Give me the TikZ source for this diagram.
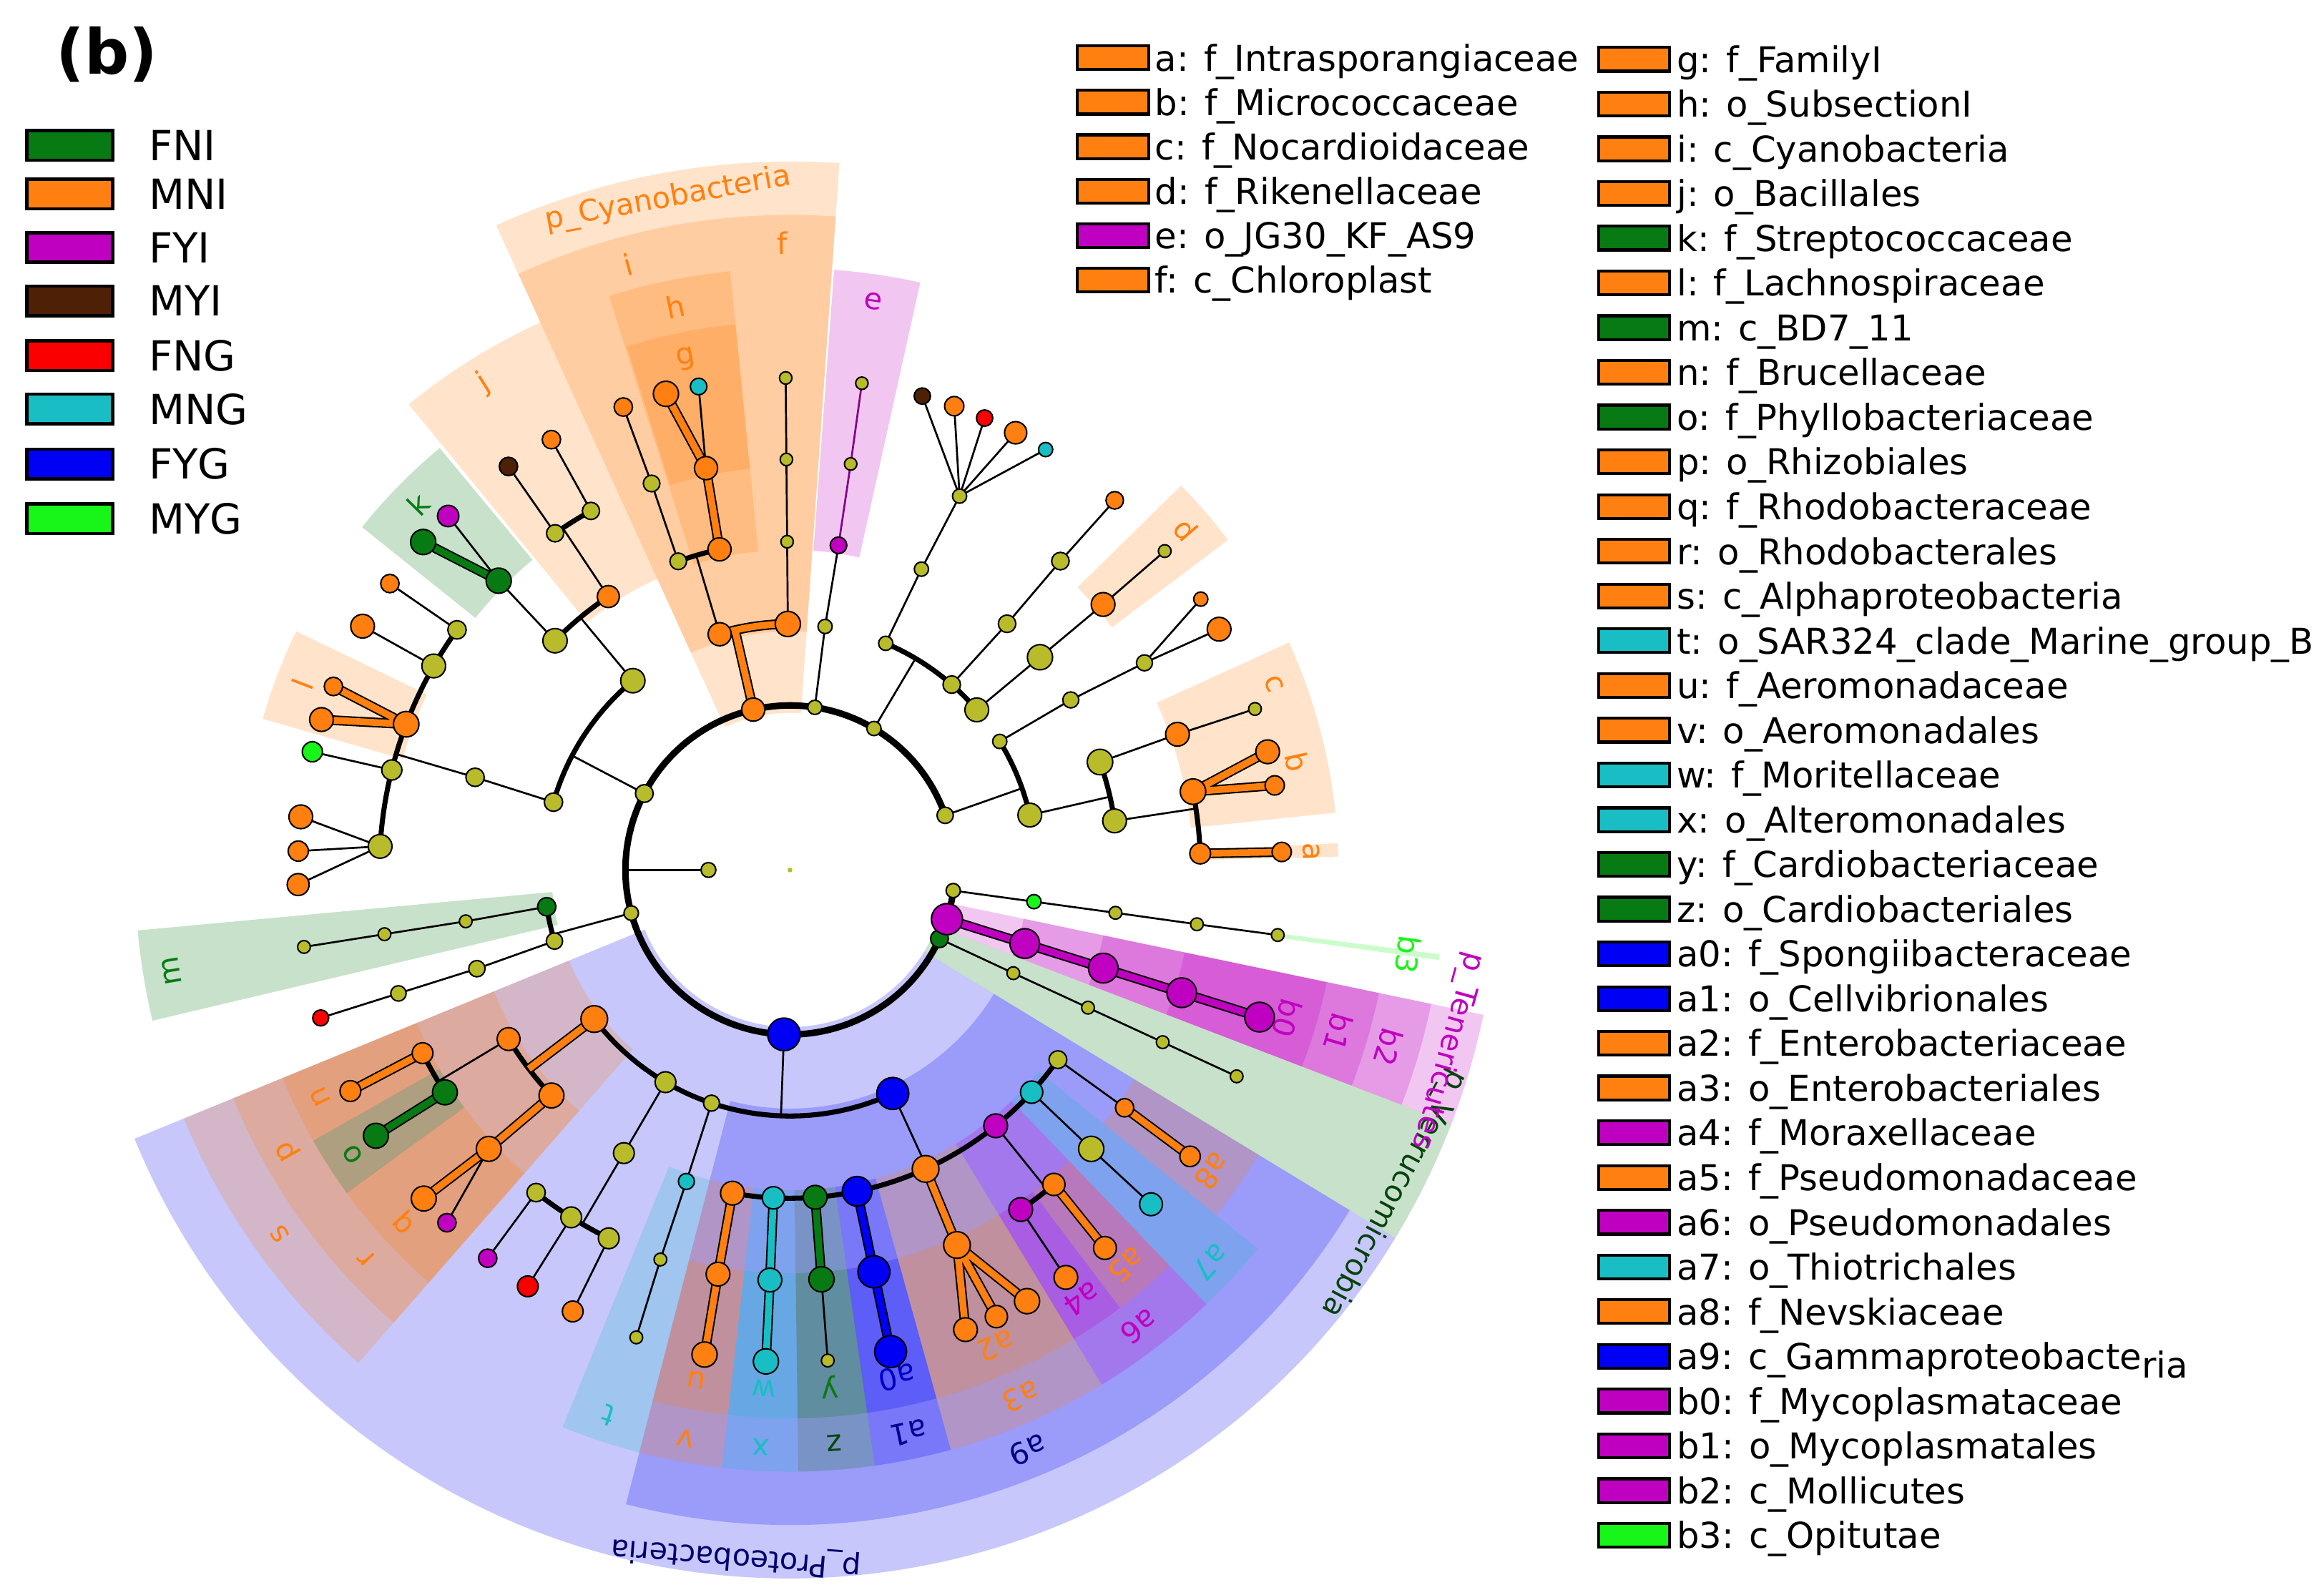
\documentclass[tikz,border=0pt]{standalone}
\usepackage{fontspec}
\setmainfont{DejaVu Sans}
\usepackage{tikz}

\definecolor{ygc}{RGB}{184,188,42}
\definecolor{fni}{RGB}{8,122,20}
\definecolor{mni}{RGB}{255,128,16}
\definecolor{fyi}{RGB}{192,0,192}
\definecolor{myi}{RGB}{78,32,6}
\definecolor{fng}{RGB}{250,0,0}
\definecolor{mng}{RGB}{24,190,196}
\definecolor{fyg}{RGB}{0,0,245}
\definecolor{myg}{RGB}{24,245,24}

\tikzset{
  br/.style={draw=black, line width=0.65pt},
  arcbr/.style={draw=black, line width=1.7pt},
  ringbr/.style={draw=black, line width=2.2pt},
  cbr/.style={draw=#1, line width=2.3pt, preaction={draw=black, line width=3.3pt}},
  nd/.style={circle, draw=black, line width=0.5pt, inner sep=0pt, minimum size=#1},
  clab/.style={font=\fontsize{10}{12}\selectfont, inner sep=0pt},
  legbox/.style={draw=black, line width=1.1pt, minimum width=29pt, minimum height=10pt, inner sep=0pt},
  legtxt/.style={anchor=west, inner sep=0pt, text height=10.2pt, text depth=0pt, font=\fontsize{14}{16}\selectfont},
  keybox/.style={draw=black, line width=1pt, minimum width=24pt, minimum height=8pt, inner sep=0pt},
  keytxt/.style={anchor=west, inner sep=0pt, text height=8.8pt, text depth=0pt, font=\fontsize{12}{14}\selectfont},
}

% annular sector: start angle, end angle, inner radius, outer radius, colour
\newcommand{\cladesector}[5]{%
  \fill[#5, fill opacity=0.22] (#1:#3) arc[start angle=#1, end angle=#2, radius=#3]
    -- (#2:#4) arc[start angle=#2, end angle=#1, radius=#4] -- cycle;}

\begin{document}
\begin{tikzpicture}[x=0.5pt,y=0.5pt,yscale=-1,xscale=1]
\useasboundingbox (0,0) rectangle (1568,1076);
\fill[white] (0,0) rectangle (1568,1076);

% Text Node
\node[font=\fontsize{21}{24}\selectfont\bfseries, inner sep=0pt] (title) at (72,37) {(b)};

%Shape: Legend boxes, left
\node[legbox, fill=fni] (bxFNI) at (47,98) {};
\node[legtxt] (txFNI) at (100,98) {FNI};
\node[legbox, fill=mni] (bxMNI) at (47,131) {};
\node[legtxt] (txMNI) at (100,131) {MNI};
\node[legbox, fill=fyi] (bxFYI) at (47,167) {};
\node[legtxt] (txFYI) at (100,167) {FYI};
\node[legbox, fill=myi] (bxMYI) at (47,203) {};
\node[legtxt] (txMYI) at (100,203) {MYI};
\node[legbox, fill=fng] (bxFNG) at (47,240) {};
\node[legtxt] (txFNG) at (100,240) {FNG};
\node[legbox, fill=mng] (bxMNG) at (47,276) {};
\node[legtxt] (txMNG) at (100,276) {MNG};
\node[legbox, fill=fyg] (bxFYG) at (47,313) {};
\node[legtxt] (txFYG) at (100,313) {FYG};
\node[legbox, fill=myg] (bxMYG) at (47,350) {};
\node[legtxt] (txMYG) at (100,350) {MYG};

%Shape: Key, first column
\node[keybox, fill=mni] (ka) at (751,39) {};
\node[keytxt] (ta) at (779,39) {a: f\_Intrasporangiaceae};
\node[keybox, fill=mni] (kb) at (751,69) {};
\node[keytxt] (tb) at (779,69) {b: f\_Micrococcaceae};
\node[keybox, fill=mni] (kc) at (751,99) {};
\node[keytxt] (tc) at (779,99) {c: f\_Nocardioidaceae};
\node[keybox, fill=mni] (kd) at (751,129) {};
\node[keytxt] (td) at (779,129) {d: f\_Rikenellaceae};
\node[keybox, fill=fyi] (ke) at (751,159) {};
\node[keytxt] (te) at (779,159) {e: o\_JG30\_KF\_AS9};
\node[keybox, fill=mni] (kf) at (751,189) {};
\node[keytxt] (tf) at (779,189) {f: c\_Chloroplast};

%Shape: Key, second column
\node[keybox, fill=mni] (kg) at (1102.5,40) {};
\node[keytxt] (tg) at (1131,40) {g: f\_FamilyI};
\node[keybox, fill=mni] (kh) at (1102.5,70.2) {};
\node[keytxt] (th) at (1131,70.2) {h: o\_SubsectionI};
\node[keybox, fill=mni] (ki) at (1102.5,100.4) {};
\node[keytxt] (ti) at (1131,100.4) {i: c\_Cyanobacteria};
\node[keybox, fill=mni] (kj) at (1102.5,130.5) {};
\node[keytxt] (tj) at (1131,130.5) {j: o\_Bacillales};
\node[keybox, fill=fni] (kk) at (1102.5,160.7) {};
\node[keytxt] (tk) at (1131,160.7) {k: f\_Streptococcaceae};
\node[keybox, fill=mni] (kl) at (1102.5,190.9) {};
\node[keytxt] (tl) at (1131,190.9) {l: f\_Lachnospiraceae};
\node[keybox, fill=fni] (km) at (1102.5,221.1) {};
\node[keytxt] (tm) at (1131,221.1) {m: c\_BD7\_11};
\node[keybox, fill=mni] (kn) at (1102.5,251.3) {};
\node[keytxt] (tn) at (1131,251.3) {n: f\_Brucellaceae};
\node[keybox, fill=fni] (ko) at (1102.5,281.4) {};
\node[keytxt] (to) at (1131,281.4) {o: f\_Phyllobacteriaceae};
\node[keybox, fill=mni] (kp) at (1102.5,311.6) {};
\node[keytxt] (tp) at (1131,311.6) {p: o\_Rhizobiales};
\node[keybox, fill=mni] (kq) at (1102.5,341.8) {};
\node[keytxt] (tq) at (1131,341.8) {q: f\_Rhodobacteraceae};
\node[keybox, fill=mni] (kr) at (1102.5,372) {};
\node[keytxt] (tr) at (1131,372) {r: o\_Rhodobacterales};
\node[keybox, fill=mni] (ks) at (1102.5,402.2) {};
\node[keytxt] (ts) at (1131,402.2) {s: c\_Alphaproteobacteria};
\node[keybox, fill=mng] (kt) at (1102.5,432.3) {};
\node[keytxt] (tt) at (1131,432.3) {t: o\_SAR324\_clade\_Marine\_group\_B};
\node[keybox, fill=mni] (ku) at (1102.5,462.5) {};
\node[keytxt] (tu) at (1131,462.5) {u: f\_Aeromonadaceae};
\node[keybox, fill=mni] (kv) at (1102.5,492.7) {};
\node[keytxt] (tv) at (1131,492.7) {v: o\_Aeromonadales};
\node[keybox, fill=mng] (kw) at (1102.5,522.9) {};
\node[keytxt] (tw) at (1131,522.9) {w: f\_Moritellaceae};
\node[keybox, fill=mng] (kx) at (1102.5,553.1) {};
\node[keytxt] (tx) at (1131,553.1) {x: o\_Alteromonadales};
\node[keybox, fill=fni] (ky) at (1102.5,583.2) {};
\node[keytxt] (ty) at (1131,583.2) {y: f\_Cardiobacteriaceae};
\node[keybox, fill=fni] (kz) at (1102.5,613.4) {};
\node[keytxt] (tz) at (1131,613.4) {z: o\_Cardiobacteriales};
\node[keybox, fill=fyg] (ka0) at (1102.5,643.6) {};
\node[keytxt] (ta0) at (1131,643.6) {a0: f\_Spongiibacteraceae};
\node[keybox, fill=fyg] (ka1) at (1102.5,673.8) {};
\node[keytxt] (ta1) at (1131,673.8) {a1: o\_Cellvibrionales};
\node[keybox, fill=mni] (ka2) at (1102.5,704) {};
\node[keytxt] (ta2) at (1131,704) {a2: f\_Enterobacteriaceae};
\node[keybox, fill=mni] (ka3) at (1102.5,734.1) {};
\node[keytxt] (ta3) at (1131,734.1) {a3: o\_Enterobacteriales};
\node[keybox, fill=fyi] (ka4) at (1102.5,764.3) {};
\node[keytxt] (ta4) at (1131,764.3) {a4: f\_Moraxellaceae};
\node[keybox, fill=mni] (ka5) at (1102.5,794.5) {};
\node[keytxt] (ta5) at (1131,794.5) {a5: f\_Pseudomonadaceae};
\node[keybox, fill=fyi] (ka6) at (1102.5,824.7) {};
\node[keytxt] (ta6) at (1131,824.7) {a6: o\_Pseudomonadales};
\node[keybox, fill=mng] (ka7) at (1102.5,854.9) {};
\node[keytxt] (ta7) at (1131,854.9) {a7: o\_Thiotrichales};
\node[keybox, fill=mni] (ka8) at (1102.5,885) {};
\node[keytxt] (ta8) at (1131,885) {a8: f\_Nevskiaceae};
\node[keybox, fill=fyg] (ka9) at (1102.5,915.2) {};
\node[keytxt] (ta9) at (1131,915.2) {a9: c\_Gammaproteobacte\raisebox{-0.45ex}{ria}};
\node[keybox, fill=fyi] (kb0) at (1102.5,945.4) {};
\node[keytxt] (tb0) at (1131,945.4) {b0: f\_Mycoplasmataceae};
\node[keybox, fill=fyi] (kb1) at (1102.5,975.6) {};
\node[keytxt] (tb1) at (1131,975.6) {b1: o\_Mycoplasmatales};
\node[keybox, fill=fyi] (kb2) at (1102.5,1005.8) {};
\node[keytxt] (tb2) at (1131,1005.8) {b2: c\_Mollicutes};
\node[keybox, fill=myg] (kb3) at (1102.5,1035.9) {};
\node[keytxt] (tb3) at (1131,1035.9) {b3: c\_Opitutae};

% ---------------- cladogram ----------------
\begin{scope}[shift={(533,587)},yscale=-1]

%Shape: Sectors, phylum
\cladesector{86}{114.5}{106}{478}{mni}
\cladesector{202.3}{328.7}{106}{478}{fyg}
\cladesector{328.7}{339}{106}{478}{fni}
\cladesector{339}{348.2}{106}{478}{fyi}
%Shape: Sectors, class
\cladesector{86}{95.5}{161}{442}{mni}
\cladesector{95.5}{114.5}{161}{442}{mni}
\cladesector{185.3}{193.3}{161}{442}{fni}
\cladesector{202.3}{228.8}{161}{442}{mni}
\cladesector{255.5}{328.7}{161}{442}{fyg}
\cladesector{339}{348.2}{161}{442}{fyi}
\cladesector{352.1}{352.6}{327}{442}{myg}
%Shape: Sectors, order
\cladesector{77.5}{85.8}{216}{406}{fyi}
\cladesector{95.7}{107.5}{216}{406}{mni}
\cladesector{114.5}{129.3}{216}{406}{mni}
\cladesector{202.3}{216.1}{216}{406}{mni}
\cladesector{216.1}{228.8}{216}{406}{mni}
\cladesector{247.8}{255.5}{216}{406}{mng}
\cladesector{255.5}{263.5}{216}{406}{mni}
\cladesector{263.5}{270.8}{216}{406}{mng}
\cladesector{270.8}{278.1}{216}{406}{fni}
\cladesector{278.1}{285.5}{216}{406}{fyg}
\cladesector{285.5}{301.2}{216}{406}{mni}
\cladesector{301.2}{313.8}{216}{406}{fyi}
\cladesector{313.8}{321}{216}{406}{mng}
\cladesector{339}{348.2}{216}{406}{fyi}
%Shape: Sectors, family
\cladesector{1.4}{2.8}{272}{370}{mni}
\cladesector{6}{17.7}{272}{370}{mni}
\cladesector{17.7}{24.5}{272}{370}{mni}
\cladesector{37}{44.5}{272}{370}{mni}
\cladesector{95.7}{107.3}{272}{370}{mni}
\cladesector{129.7}{141.3}{272}{370}{fni}
\cladesector{154.2}{164}{272}{370}{mni}
\cladesector{202.3}{209.6}{272}{370}{mni}
\cladesector{209.6}{216.1}{272}{370}{fni}
\cladesector{216.1}{228.8}{272}{370}{mni}
\cladesector{255.5}{263.5}{272}{370}{mni}
\cladesector{263.5}{270.8}{272}{370}{mng}
\cladesector{270.8}{278.1}{272}{370}{fni}
\cladesector{278.1}{285.5}{272}{370}{fyg}
\cladesector{285.5}{301.2}{272}{370}{mni}
\cladesector{301.2}{307}{272}{370}{fyi}
\cladesector{307}{313.8}{272}{370}{mni}
\cladesector{321}{328.7}{272}{370}{mni}
\cladesector{339}{348.2}{272}{370}{fyi}

% Text Node: sector labels
\node[clab, text=mni, rotate=2-90] (lba) at (2:352) {a};
\node[clab, text=mni, rotate=12-90] (lbb) at (12:350) {b};
\node[clab, text=mni, rotate=21-90] (lbc) at (21:350) {c};
\node[clab, text=mni, rotate=40.7-90] (lbd) at (40.7:352) {d};
\node[clab, text=fyi, rotate=81.7-90] (lbe) at (81.7:388) {e};
\node[clab, text=mni, rotate=90.7-90] (lbf) at (90.7:423) {f};
\node[clab, text=mni, rotate=101.5-90] (lbg) at (101.5:352) {g};
\node[clab, text=mni, rotate=101.5-90] (lbh) at (101.5:388) {h};
\node[clab, text=mni, rotate=105-90] (lbi) at (105:423) {i};
\node[clab, text=mni, rotate=100.3-90] (lbcya) at (100.3:460) {p\_Cyanobacteria};
\node[clab, text=mni, rotate=122.2-90] (lbj) at (122.2:388) {j};
\node[clab, text=fni, rotate=135.5-90] (lbk) at (135.5:352) {k};
\node[clab, text=mni, rotate=159.1-90] (lbl) at (159.1:352) {l};
\node[clab, text=fni, rotate=189.3-90] (lbm) at (189.3:423) {m};
\node[clab, text=mni, rotate=205.8-90] (lbn) at (205.8:352) {n};
\node[clab, text=fni, rotate=213-90] (lbo) at (213:352) {o};
\node[clab, text=mni, rotate=209.2-90] (lbp) at (209.2:388) {p};
\node[clab, text=mni, rotate=222.5-90] (lbq) at (222.5:352) {q};
\node[clab, text=mni, rotate=222.5-90] (lbr) at (222.5:388) {r};
\node[clab, text=mni, rotate=215.5-90] (lbs) at (215.5:423) {s};
\node[clab, text=mng, rotate=251.6-90] (lbt) at (251.6:388) {t};
\node[clab, text=mni, rotate=259.6-90] (lbu) at (259.6:350) {u};
\node[clab, text=mni, rotate=259.6-90] (lbv) at (259.6:390) {v};
\node[clab, text=mng, rotate=267.1-90] (lbw) at (267.1:350) {w};
\node[clab, text=mng, rotate=267.1-90] (lbx) at (267.1:390) {x};
\node[clab, text=fni, rotate=274.4-90] (lby) at (274.4:350) {y};
\node[clab, text=fni!60!black, rotate=274.4-90] (lbz) at (274.4:388) {z};
\node[clab, text=fyg!80!black, rotate=281.9-90] (lba0) at (281.9:350) {a0};
\node[clab, text=fyg!60!black, rotate=281.9-90] (lba1) at (281.9:388) {a1};
\node[clab, text=mni, rotate=293.4-90] (lba2) at (293.4:350) {a2};
\node[clab, text=mni, rotate=293.7-90] (lba3) at (293.7:388) {a3};
\node[clab, text=fyi, rotate=304.2-90] (lba4) at (304.2:350) {a4};
\node[clab, text=mni, rotate=310.4-90] (lba5) at (310.4:350) {a5};
\node[clab, text=fyi, rotate=307.4-90] (lba6) at (307.4:388) {a6};
\node[clab, text=mng, rotate=317-90] (lba7) at (317:388) {a7};
\node[clab, text=mni, rotate=324.5-90] (lba8) at (324.5:350) {a8};
\node[clab, text=fyg!55!black, rotate=292.3-90] (lba9) at (292.3:423) {a9};
\node[clab, text=fyg!45!black, rotate=265.5-90] (lbpro) at (265.5:465) {p\_Proteobacteria};
\node[clab, text=fyi, rotate=343.4-90] (lbb0) at (343.4:350) {b0};
\node[clab, text=fyi, rotate=343.5-90] (lbb1) at (343.5:386) {b1};
\node[clab, text=fyi, rotate=343.5-90] (lbb2) at (343.5:421) {b2};
\node[clab, text=fni!55!black, rotate=331.8-90] (lbver) at (331.8:462) {p\_Verrucomicrobia};
\node[clab, text=fyi, rotate=344.6-90] (lbten) at (344.6:460) {p\_Tenericutes};
\node[clab, text=myg, rotate=352.2-90] (lbb3) at (352.2:421) {b3};

% tree positions (levels at 111, 166, 221.5, 277, 332)
\coordinate (root) at (0,0);
\coordinate (kdm) at (180:55);
\coordinate (pAct) at (19.4:111);
\coordinate (cAc1) at (31.5:166);
\coordinate (oAc1) at (31.2:221.5);
\coordinate (fAc1) at (30.3:277);
\coordinate (gAc1a) at (33.4:332);
\coordinate (gAc1b) at (29.3:332);
\coordinate (cAc2) at (12.9:166);
\coordinate (oAc2) at (19.2:221.5);
\coordinate (fCc) at (19.3:277);
\coordinate (gCc) at (19.1:332);
\coordinate (oAc3) at (8.6:221.5);
\coordinate (fBb) at (11:277);
\coordinate (gBb1) at (13.9:332);
\coordinate (gBb2) at (9.9:332);
\coordinate (fAa) at (2.3:277);
\coordinate (gAa) at (2.1:332);
\coordinate (pBct) at (59.3:111);
\coordinate (cBt1) at (67.1:166);
\coordinate (oBt1) at (66.4:221.5);
\coordinate (fBt1) at (65.6:277);
\coordinate (gBt1a) at (74.4:332);
\coordinate (gBt1b) at (70.5:332);
\coordinate (gBt1c) at (66.7:332);
\coordinate (gBt1d) at (62.7:332);
\coordinate (gBt1e) at (58.7:332);
\coordinate (cBt2) at (48.9:166);
\coordinate (oBt2) at (48.6:221.5);
\coordinate (fBt2) at (48.8:277);
\coordinate (gBt2) at (48.7:332);
\coordinate (cBt3) at (40.6:166);
\coordinate (oBt3) at (40.4:221.5);
\coordinate (fDd) at (40.3:277);
\coordinate (gDd) at (40.4:332);
\coordinate (pChl) at (81.3:111);
\coordinate (cChl) at (81.8:166);
\coordinate (oEe) at (81.5:221.5);
\coordinate (fChl) at (81.5:277);
\coordinate (gChl) at (81.6:332);
\coordinate (pCya) at (102.9:111);
\coordinate (cFf) at (90.5:166);
\coordinate (oFf) at (90.5:221.5);
\coordinate (fFf) at (90.5:277);
\coordinate (gFf) at (90.5:332);
\coordinate (cIi) at (106.6:166);
\coordinate (oIi) at (109.9:221.5);
\coordinate (fIi) at (109.7:277);
\coordinate (gIi) at (109.8:332);
\coordinate (oHh) at (102.4:221.5);
\coordinate (fGg) at (101.8:277);
\coordinate (gGg1) at (104.6:332);
\coordinate (gGg2) at (100.7:332);
\coordinate (pFir) at (152.3:111);
\coordinate (cBac) at (129.7:166);
\coordinate (oJj) at (123.6:221.5);
\coordinate (fJj1) at (124.9:277);
\coordinate (gJj1) at (124.9:332);
\coordinate (fJj2) at (119:277);
\coordinate (gJj2) at (119:332);
\coordinate (oLac) at (135.7:221.5);
\coordinate (fKk) at (135.2:277);
\coordinate (gKk1) at (138.2:332);
\coordinate (gKk2) at (134:332);
\coordinate (cClo) at (164:166);
\coordinate (oClo) at (163.6:221.5);
\coordinate (fCl1) at (144.2:277);
\coordinate (gCl1) at (144.4:332);
\coordinate (fCl2) at (150.2:277);
\coordinate (gCl2) at (150.3:332);
\coordinate (fLl) at (159.2:277);
\coordinate (gLl1) at (158.1:332);
\coordinate (gLl2) at (162.2:332);
\coordinate (fCl4) at (165.9:277);
\coordinate (gCl4) at (166.1:332);
\coordinate (fCl5) at (176.7:277);
\coordinate (gCl5a) at (173.8:332);
\coordinate (gCl5b) at (177.8:332);
\coordinate (gCl5c) at (181.7:332);
\coordinate (pBD) at (195.2:111);
\coordinate (cMm) at (188.6:166);
\coordinate (oMm) at (189:221.5);
\coordinate (fMm) at (189:277);
\coordinate (gMm) at (189:332);
\coordinate (cBD2) at (196.8:166);
\coordinate (oBD2) at (197.5:221.5);
\coordinate (fBD2) at (197.5:277);
\coordinate (gBD2) at (197.5:332);
\coordinate (pPro) at (267.9:111);
\coordinate (cSs) at (217.3:166);
\coordinate (oPp) at (211:221.5);
\coordinate (fNn) at (206.5:277);
\coordinate (gNn) at (206.7:332);
\coordinate (fOo) at (212.8:277);
\coordinate (gOo) at (212.7:332);
\coordinate (oRr) at (223.4:221.5);
\coordinate (fQq) at (222.8:277);
\coordinate (gQq1) at (221.9:332);
\coordinate (gQq2) at (225.8:332);
\coordinate (cBet) at (239.6:166);
\coordinate (oBet) at (239.6:221.5);
\coordinate (fBe1) at (231.8:277);
\coordinate (gBe1) at (232.1:332);
\coordinate (fBe2) at (237.8:277);
\coordinate (gBe2) at (237.8:332);
\coordinate (fBe3) at (243.8:277);
\coordinate (gBe3) at (243.8:332);
\coordinate (cDel) at (251.4:166);
\coordinate (oTt) at (251.6:221.5);
\coordinate (fTt) at (251.6:277);
\coordinate (gTt) at (251.8:332);
\coordinate (cGam) at (294.7:166);
\coordinate (oVv) at (259.9:221.5);
\coordinate (fUu) at (259.9:277);
\coordinate (gUu) at (260:332);
\coordinate (oXx) at (267.1:221.5);
\coordinate (fWw) at (267.2:277);
\coordinate (gWw) at (267.2:332);
\coordinate (oZz) at (274.4:221.5);
\coordinate (fYy) at (274.4:277);
\coordinate (gYy) at (274.4:332);
\coordinate (oA1) at (281.8:221.5);
\coordinate (fA0) at (281.8:277);
\coordinate (gA0) at (281.8:332);
\coordinate (oA3) at (294.4:221.5);
\coordinate (fA2) at (294:277);
\coordinate (gA2a) at (290.9:332);
\coordinate (gA2b) at (294.8:332);
\coordinate (gA2c) at (298.8:332);
\coordinate (oA6) at (308.8:221.5);
\coordinate (fA4) at (304.2:277);
\coordinate (gA4) at (304.1:332);
\coordinate (fA5) at (310:277);
\coordinate (gA5) at (309.8:332);
\coordinate (oA7) at (317.4:221.5);
\coordinate (fA7) at (317.2:277);
\coordinate (gA7) at (317.2:332);
\coordinate (oNev) at (324.7:221.5);
\coordinate (fA8) at (324.6:277);
\coordinate (gA8) at (324.4:332);
\coordinate (pVer) at (335.3:111);
\coordinate (cVer) at (335.2:166);
\coordinate (oVer) at (335.2:221.5);
\coordinate (fVer) at (335.2:277);
\coordinate (gVer) at (335.2:332);
\coordinate (pTen) at (342.6:111);
\coordinate (cB2) at (342.6:166);
\coordinate (oB1) at (342.6:221.5);
\coordinate (fB0) at (342.6:277);
\coordinate (gB0) at (342.6:332);
\coordinate (pOpi) at (352.8:111);
\coordinate (cB3) at (352.6:166);
\coordinate (oOpi) at (352.5:221.5);
\coordinate (fOpi) at (352.4:277);
\coordinate (gOpi) at (352.4:332);

%Straight Lines: root and kingdom ring
\draw[br] (kdm) -- (180:111);
\draw[ringbr] (19.4:111) arc[start angle=19.4, end angle=352.8, radius=111];

%Straight Lines: Actinobacteria
\draw[br] (pAct) -- (19.4:166);
\draw[arcbr] (12.9:166) arc[start angle=12.9, end angle=31.5, radius=166];
\draw[br] (cAc1) -- (oAc1) -- (fAc1) -- (gAc1a) (fAc1) -- (gAc1b);
\draw[br] (cAc2) -- (12.9:221.5);
\draw[arcbr] (8.6:221.5) arc[start angle=8.6, end angle=19.2, radius=221.5];
\draw[br] (oAc2) -- (fCc) -- (gCc);
\draw[br] (oAc3) -- (8.6:277);
\draw[arcbr] (2.3:277) arc[start angle=2.3, end angle=11, radius=277];
\draw[cbr=mni] (fBb) -- (gBb1) (fBb) -- (gBb2) (fAa) -- (gAa);

%Straight Lines: Bacteroidetes
\draw[br] (pBct) -- (59.3:166);
\draw[arcbr] (40.6:166) arc[start angle=40.6, end angle=67.1, radius=166];
\draw[br] (cBt1) -- (oBt1) -- (fBt1);
\draw[br] (fBt1) -- (gBt1a) (fBt1) -- (gBt1b) (fBt1) -- (gBt1c) (fBt1) -- (gBt1d) (fBt1) -- (gBt1e);
\draw[br] (cBt2) -- (oBt2) -- (fBt2) -- (gBt2);
\draw[br] (cBt3) -- (oBt3) -- (fDd) -- (gDd);

%Straight Lines: Chloroflexi
\draw[br] (pChl) -- (cChl) -- (oEe);
\draw[br, draw=fyi!70!black] (oEe) -- (fChl) -- (gChl);

%Straight Lines: Cyanobacteria
\draw[cbr=mni] (pCya) -- (102.9:166) (90.5:166) arc[start angle=90.5, end angle=106.6, radius=166];
\draw[br] (cFf) -- (oFf) -- (fFf) -- (gFf);
\draw[br] (cIi) -- (106.6:221.5);
\draw[arcbr] (102.4:221.5) arc[start angle=102.4, end angle=109.9, radius=221.5];
\draw[br] (oIi) -- (fIi) -- (gIi);
\draw[cbr=mni] (oHh) -- (fGg) -- (gGg1);
\draw[br] (fGg) -- (gGg2);

%Straight Lines: Firmicutes
\draw[br] (pFir) -- (152.3:166);
\draw[arcbr] (129.7:166) arc[start angle=129.7, end angle=164, radius=166];
\draw[br] (cBac) -- (129.7:221.5);
\draw[arcbr] (123.6:221.5) arc[start angle=123.6, end angle=135.7, radius=221.5];
\draw[br] (oJj) -- (123.6:277);
\draw[arcbr] (119:277) arc[start angle=119, end angle=124.9, radius=277];
\draw[br] (fJj1) -- (gJj1) (fJj2) -- (gJj2);
\draw[br] (oLac) -- (fKk) -- (gKk2);
\draw[cbr=fni] (fKk) -- (gKk1);
\draw[br] (cClo) -- (oClo) -- (163.6:277);
\draw[arcbr] (144.2:277) arc[start angle=144.2, end angle=176.7, radius=277];
\draw[br] (fCl1) -- (gCl1) (fCl2) -- (gCl2) (fCl4) -- (gCl4);
\draw[br] (fCl5) -- (gCl5a) (fCl5) -- (gCl5b) (fCl5) -- (gCl5c);
\draw[cbr=mni] (fLl) -- (gLl1) (fLl) -- (gLl2);

%Straight Lines: c_BD7_11 phylum
\draw[br] (pBD) -- (195.2:166);
\draw[arcbr] (188.6:166) arc[start angle=188.6, end angle=196.8, radius=166];
\draw[br] (cMm) -- (oMm) -- (fMm) -- (gMm);
\draw[br] (cBD2) -- (oBD2) -- (fBD2) -- (gBD2);

%Straight Lines: Proteobacteria
\draw[br] (pPro) -- (267.9:166);
\draw[arcbr] (217.3:166) arc[start angle=217.3, end angle=294.7, radius=166];
\draw[arcbr] (211:221.5) arc[start angle=211, end angle=223.4, radius=221.5];
\draw[cbr=mni] (cSs) -- (217.3:221.5);
\draw[br] (oPp) -- (211:277);
\draw[arcbr] (206.5:277) arc[start angle=206.5, end angle=212.8, radius=277];
\draw[cbr=mni] (fNn) -- (gNn);
\draw[cbr=fni] (fOo) -- (gOo);
\draw[cbr=mni] (oRr) -- (fQq) -- (gQq1);
\draw[br] (fQq) -- (gQq2);
\draw[br] (cBet) -- (oBet) -- (239.6:277);
\draw[arcbr] (231.8:277) arc[start angle=231.8, end angle=243.8, radius=277];
\draw[br] (fBe1) -- (gBe1) (fBe2) -- (gBe2) (fBe3) -- (gBe3);
\draw[br] (cDel) -- (oTt) -- (fTt) -- (gTt);
\draw[br] (cGam) -- (294.7:221.5);
\draw[arcbr] (259.9:221.5) arc[start angle=259.9, end angle=324.7, radius=221.5];
\draw[cbr=mni] (oVv) -- (fUu) -- (gUu);
\draw[cbr=mng] (oXx) -- (fWw) -- (gWw);
\draw[cbr=fni] (oZz) -- (fYy);
\draw[br] (fYy) -- (gYy);
\draw[cbr=fyg] (oA1) -- (fA0) -- (gA0);
\draw[cbr=mni] (oA3) -- (fA2) -- (gA2a) (fA2) -- (gA2b) (fA2) -- (gA2c);
\draw[br] (oA6) -- (308.8:277);
\draw[arcbr] (304.2:277) arc[start angle=304.2, end angle=310, radius=277];
\draw[br] (fA4) -- (gA4);
\draw[cbr=mni] (fA5) -- (gA5);
\draw[br] (oA7) -- (fA7) -- (gA7);
\draw[br] (oNev) -- (fA8);
\draw[cbr=mni] (fA8) -- (gA8);

%Straight Lines: Verrucomicrobia, Tenericutes, Opitutae
\draw[br] (pVer) -- (cVer) -- (oVer) -- (fVer) -- (gVer);
\draw[cbr=fyi] (pTen) -- (cB2) -- (oB1) -- (fB0) -- (gB0);
\draw[br] (pOpi) -- (cB3) -- (oOpi) -- (fOpi) -- (gOpi);

%Shape: Circles (tree nodes)
\node[circle, fill=ygc, inner sep=0pt, minimum size=1.6pt] (droot) at (root) {};
\node[nd=5pt, fill=ygc] (dkdm) at (kdm) {};
\node[nd=5.5pt, fill=ygc] (dpAct) at (pAct) {};
\node[nd=4.8pt, fill=ygc] (dcAc1) at (cAc1) {};
\node[nd=5.4pt, fill=ygc] (doAc1) at (oAc1) {};
\node[nd=5.4pt, fill=ygc] (dfAc1) at (fAc1) {};
\node[nd=4.8pt, fill=mni] (dgAc1a) at (gAc1a) {};
\node[nd=8pt, fill=mni] (dgAc1b) at (gAc1b) {};
\node[nd=8pt, fill=ygc] (dcAc2) at (cAc2) {};
\node[nd=8.6pt, fill=ygc] (doAc2) at (oAc2) {};
\node[nd=8pt, fill=mni] (dfCc) at (fCc) {};
\node[nd=4.3pt, fill=ygc] (dgCc) at (gCc) {};
\node[nd=8pt, fill=ygc] (doAc3) at (oAc3) {};
\node[nd=8.6pt, fill=mni] (dfBb) at (fBb) {};
\node[nd=8pt, fill=mni] (dgBb1) at (gBb1) {};
\node[nd=6.5pt, fill=mni] (dgBb2) at (gBb2) {};
\node[nd=7pt, fill=mni] (dfAa) at (fAa) {};
\node[nd=6.5pt, fill=mni] (dgAa) at (gAa) {};
\node[nd=4.8pt, fill=ygc] (dpBct) at (pBct) {};
\node[nd=4.8pt, fill=ygc] (dcBt1) at (cBt1) {};
\node[nd=4.8pt, fill=ygc] (doBt1) at (oBt1) {};
\node[nd=4.8pt, fill=ygc] (dfBt1) at (fBt1) {};
\node[nd=5.5pt, fill=myi] (dgBt1a) at (gBt1a) {};
\node[nd=6.5pt, fill=mni] (dgBt1b) at (gBt1b) {};
\node[nd=5.5pt, fill=fng] (dgBt1c) at (gBt1c) {};
\node[nd=7.5pt, fill=mni] (dgBt1d) at (gBt1d) {};
\node[nd=4.8pt, fill=mng] (dgBt1e) at (gBt1e) {};
\node[nd=5.9pt, fill=ygc] (dcBt2) at (cBt2) {};
\node[nd=5.9pt, fill=ygc] (doBt2) at (oBt2) {};
\node[nd=5.9pt, fill=ygc] (dfBt2) at (fBt2) {};
\node[nd=5.9pt, fill=mni] (dgBt2) at (gBt2) {};
\node[nd=8pt, fill=ygc] (dcBt3) at (cBt3) {};
\node[nd=8.5pt, fill=ygc] (doBt3) at (oBt3) {};
\node[nd=8pt, fill=mni] (dfDd) at (fDd) {};
\node[nd=4.3pt, fill=ygc] (dgDd) at (gDd) {};
\node[nd=4.8pt, fill=ygc] (dpChl) at (pChl) {};
\node[nd=4.8pt, fill=ygc] (dcChl) at (cChl) {};
\node[nd=5.6pt, fill=fyi] (doEe) at (oEe) {};
\node[nd=4.2pt, fill=ygc] (dfChl) at (fChl) {};
\node[nd=4.2pt, fill=ygc] (dgChl) at (gChl) {};
\node[nd=7.8pt, fill=mni] (dpCya) at (pCya) {};
\node[nd=8.5pt, fill=mni] (dcFf) at (cFf) {};
\node[nd=4.2pt, fill=ygc] (doFf) at (oFf) {};
\node[nd=4.2pt, fill=ygc] (dfFf) at (fFf) {};
\node[nd=4.2pt, fill=ygc] (dgFf) at (gFf) {};
\node[nd=7.8pt, fill=mni] (dcIi) at (cIi) {};
\node[nd=5.6pt, fill=ygc] (doIi) at (oIi) {};
\node[nd=5.6pt, fill=ygc] (dfIi) at (fIi) {};
\node[nd=6.2pt, fill=mni] (dgIi) at (gIi) {};
\node[nd=7.8pt, fill=mni] (doHh) at (oHh) {};
\node[nd=7.8pt, fill=mni] (dfGg) at (fGg) {};
\node[nd=8.5pt, fill=mni] (dgGg1) at (gGg1) {};
\node[nd=5.6pt, fill=mng] (dgGg2) at (gGg2) {};
\node[nd=6pt, fill=ygc] (dpFir) at (pFir) {};
\node[nd=8.2pt, fill=ygc] (dcBac) at (cBac) {};
\node[nd=7.4pt, fill=mni] (doJj) at (oJj) {};
\node[nd=5.8pt, fill=ygc] (dfJj1) at (fJj1) {};
\node[nd=6.2pt, fill=myi] (dgJj1) at (gJj1) {};
\node[nd=5.8pt, fill=ygc] (dfJj2) at (fJj2) {};
\node[nd=6.2pt, fill=mni] (dgJj2) at (gJj2) {};
\node[nd=8.2pt, fill=ygc] (doLac) at (oLac) {};
\node[nd=8.5pt, fill=fni] (dfKk) at (fKk) {};
\node[nd=8.5pt, fill=fni] (dgKk1) at (gKk1) {};
\node[nd=7.2pt, fill=fyi] (dgKk2) at (gKk2) {};
\node[nd=6.2pt, fill=ygc] (dcClo) at (cClo) {};
\node[nd=6.2pt, fill=ygc] (doClo) at (oClo) {};
\node[nd=6.2pt, fill=ygc] (dfCl1) at (fCl1) {};
\node[nd=6.2pt, fill=mni] (dgCl1) at (gCl1) {};
\node[nd=8pt, fill=ygc] (dfCl2) at (fCl2) {};
\node[nd=8pt, fill=mni] (dgCl2) at (gCl2) {};
\node[nd=8.6pt, fill=mni] (dfLl) at (fLl) {};
\node[nd=6.2pt, fill=mni] (dgLl1) at (gLl1) {};
\node[nd=8pt, fill=mni] (dgLl2) at (gLl2) {};
\node[nd=6.8pt, fill=ygc] (dfCl4) at (fCl4) {};
\node[nd=6.8pt, fill=myg] (dgCl4) at (gCl4) {};
\node[nd=8pt, fill=ygc] (dfCl5) at (fCl5) {};
\node[nd=8pt, fill=mni] (dgCl5a) at (gCl5a) {};
\node[nd=6.8pt, fill=mni] (dgCl5b) at (gCl5b) {};
\node[nd=7.4pt, fill=mni] (dgCl5c) at (gCl5c) {};
\node[nd=4.9pt, fill=ygc] (dpBD) at (pBD) {};
\node[nd=6.2pt, fill=fni] (dcMm) at (cMm) {};
\node[nd=4.3pt, fill=ygc] (doMm) at (oMm) {};
\node[nd=4.3pt, fill=ygc] (dfMm) at (fMm) {};
\node[nd=4.3pt, fill=ygc] (dgMm) at (gMm) {};
\node[nd=5.5pt, fill=ygc] (dcBD2) at (cBD2) {};
\node[nd=5.5pt, fill=ygc] (doBD2) at (oBD2) {};
\node[nd=5.2pt, fill=ygc] (dfBD2) at (fBD2) {};
\node[nd=5.4pt, fill=fng] (dgBD2) at (gBD2) {};
\node[nd=11pt, fill=fyg] (dpPro) at (pPro) {};
\node[nd=9pt, fill=mni] (dcSs) at (cSs) {};
\node[nd=7.7pt, fill=mni] (doPp) at (oPp) {};
\node[nd=7pt, fill=mni] (dfNn) at (fNn) {};
\node[nd=7pt, fill=mni] (dgNn) at (gNn) {};
\node[nd=8.4pt, fill=fni] (dfOo) at (fOo) {};
\node[nd=8.4pt, fill=fni] (dgOo) at (gOo) {};
\node[nd=8.4pt, fill=mni] (doRr) at (oRr) {};
\node[nd=8.4pt, fill=mni] (dfQq) at (fQq) {};
\node[nd=8.4pt, fill=mni] (dgQq1) at (gQq1) {};
\node[nd=6.2pt, fill=fyi] (dgQq2) at (gQq2) {};
\node[nd=7pt, fill=ygc] (dcBet) at (cBet) {};
\node[nd=7pt, fill=ygc] (doBet) at (oBet) {};
\node[nd=6.2pt, fill=ygc] (dfBe1) at (fBe1) {};
\node[nd=6.2pt, fill=fyi] (dgBe1) at (gBe1) {};
\node[nd=7pt, fill=ygc] (dfBe2) at (fBe2) {};
\node[nd=7pt, fill=fng] (dgBe2) at (gBe2) {};
\node[nd=7pt, fill=ygc] (dfBe3) at (fBe3) {};
\node[nd=7pt, fill=mni] (dgBe3) at (gBe3) {};
\node[nd=5.4pt, fill=ygc] (dcDel) at (cDel) {};
\node[nd=5.4pt, fill=mng] (doTt) at (oTt) {};
\node[nd=4.3pt, fill=ygc] (dfTt) at (fTt) {};
\node[nd=4.3pt, fill=ygc] (dgTt) at (gTt) {};
\node[nd=10.8pt, fill=fyg] (dcGam) at (cGam) {};
\node[nd=8pt, fill=mni] (doVv) at (oVv) {};
\node[nd=8pt, fill=mni] (dfUu) at (fUu) {};
\node[nd=8.5pt, fill=mni] (dgUu) at (gUu) {};
\node[nd=7.5pt, fill=mng] (doXx) at (oXx) {};
\node[nd=8pt, fill=mng] (dfWw) at (fWw) {};
\node[nd=8.5pt, fill=mng] (dgWw) at (gWw) {};
\node[nd=8pt, fill=fni] (doZz) at (oZz) {};
\node[nd=8.5pt, fill=fni] (dfYy) at (fYy) {};
\node[nd=4.3pt, fill=ygc] (dgYy) at (gYy) {};
\node[nd=10pt, fill=fyg] (doA1) at (oA1) {};
\node[nd=10.8pt, fill=fyg] (dfA0) at (fA0) {};
\node[nd=10.8pt, fill=fyg] (dgA0) at (gA0) {};
\node[nd=9pt, fill=mni] (doA3) at (oA3) {};
\node[nd=9pt, fill=mni] (dfA2) at (fA2) {};
\node[nd=8pt, fill=mni] (dgA2a) at (gA2a) {};
\node[nd=7.5pt, fill=mni] (dgA2b) at (gA2b) {};
\node[nd=8.5pt, fill=mni] (dgA2c) at (gA2c) {};
\node[nd=8pt, fill=fyi] (doA6) at (oA6) {};
\node[nd=8pt, fill=fyi] (dfA4) at (fA4) {};
\node[nd=8pt, fill=mni] (dgA4) at (gA4) {};
\node[nd=7.5pt, fill=mni] (dfA5) at (fA5) {};
\node[nd=7.7pt, fill=mni] (dgA5) at (gA5) {};
\node[nd=7.5pt, fill=mng] (doA7) at (oA7) {};
\node[nd=8.5pt, fill=ygc] (dfA7) at (fA7) {};
\node[nd=7.7pt, fill=mng] (dgA7) at (gA7) {};
\node[nd=6pt, fill=ygc] (doNev) at (oNev) {};
\node[nd=6.2pt, fill=mni] (dfA8) at (fA8) {};
\node[nd=6.9pt, fill=mni] (dgA8) at (gA8) {};
\node[nd=6pt, fill=fni] (dpVer) at (pVer) {};
\node[nd=4.3pt, fill=ygc] (dcVer) at (cVer) {};
\node[nd=4.3pt, fill=ygc] (doVer) at (oVer) {};
\node[nd=4.3pt, fill=ygc] (dfVer) at (fVer) {};
\node[nd=4.3pt, fill=ygc] (dgVer) at (gVer) {};
\node[nd=10.5pt, fill=fyi] (dpTen) at (pTen) {};
\node[nd=10pt, fill=fyi] (dcB2) at (cB2) {};
\node[nd=10pt, fill=fyi] (doB1) at (oB1) {};
\node[nd=10pt, fill=fyi] (dfB0) at (fB0) {};
\node[nd=10pt, fill=fyi] (dgB0) at (gB0) {};
\node[nd=4.8pt, fill=ygc] (dpOpi) at (pOpi) {};
\node[nd=4.8pt, fill=myg] (dcB3) at (cB3) {};
\node[nd=4.3pt, fill=ygc] (doOpi) at (oOpi) {};
\node[nd=4.3pt, fill=ygc] (dfOpi) at (fOpi) {};
\node[nd=4.3pt, fill=ygc] (dgOpi) at (gOpi) {};

\end{scope}

\end{tikzpicture}
\end{document}
